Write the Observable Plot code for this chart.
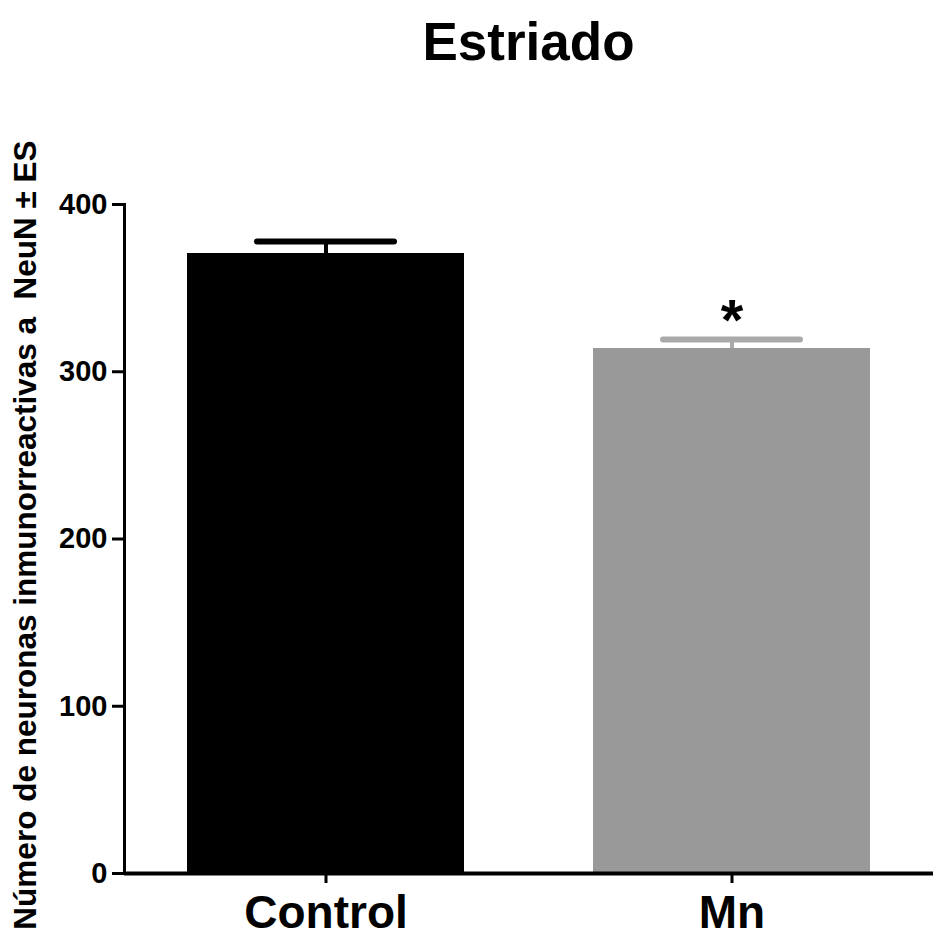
<!DOCTYPE html>
<html>
<head>
<meta charset="utf-8">
<script src="https://cdn.jsdelivr.net/npm/d3@7"></script>
<script src="https://cdn.jsdelivr.net/npm/@observablehq/plot@0.6"></script>
<style>
  html, body { margin: 0; padding: 0; background: #ffffff; }
  #wrap { width: 933px; height: 939px; position: relative; overflow: hidden; font-family: "Liberation Sans", Arial, sans-serif; }
  #title { box-sizing: border-box; height: 90px; padding-top: 15px; padding-left: 124px; text-align: center;
           font-size: 53px; line-height: 1; font-weight: bold; color: #000; }
  svg { display: block; overflow: visible; }
</style>
</head>
<body>
<div id="wrap">
  <div id="title">Estriado</div>
  <div id="chart"></div>
</div>
<script>
const title = "Estriado";
const groups = ["Control", "Mn"];
const means = [370.7, 313.9];
const errors = [7.2, 5.4];
const barColors = ["#000000", "#999999"];
const errorColors = ["#000000", "#aaaaaa"];
const significance = ["", "*"];
const yTicks = [0, 100, 200, 300, 400];
const yLabel = "Número de neuronas inmunorreactivas a  NeuN ± ES";

const data = groups.map((g, i) => ({
  group: g, mean: means[i], se: errors[i], top: means[i] + errors[i],
  fill: barColors[i], err: errorColors[i], sig: significance[i]
}));

const font = "Liberation Sans, Arial, sans-serif";

const chart = Plot.plot({
  width: 933,
  height: 849,
  marginTop: 114,
  marginBottom: 66,
  marginLeft: 124,
  marginRight: 0,
  style: { fontFamily: font, fontWeight: "bold", color: "#000", background: "#fff", overflow: "visible" },
  x: { domain: groups, paddingInner: 0.318, paddingOuter: 0.155, label: null },
  y: { domain: [0, 400], label: null },
  marks: [
    Plot.ruleX(data, { x: "group", y1: "mean", y2: "top", stroke: d => d.err, strokeWidth: 4 }),
    Plot.tickY(data, { x: "group", y: "top", stroke: d => d.err, strokeWidth: 6, strokeLinecap: "round", insetLeft: 70, insetRight: 70 }),
    Plot.barY(data, { x: "group", y: "mean", fill: d => d.fill }),
    Plot.text(data, { x: "group", y: "top", text: "sig", fontSize: 58, fontWeight: "bold", lineAnchor: "middle", dy: -18, fill: "#000" }),
    Plot.frame({ anchor: "left", strokeWidth: 3, stroke: "#000" }),
    Plot.ruleY([0], { strokeWidth: 4, stroke: "#000" }),
    Plot.axisY({ ticks: yTicks, tickSize: 12, tickPadding: 5, tickFormat: d3.format("d"), fontSize: 29, fontWeight: "bold", strokeWidth: 3, label: null }),
    Plot.axisX({ tickSize: 10, tickPadding: 12, fontSize: 46, fontWeight: "bold", strokeWidth: 3, label: null }),
    Plot.text([yLabel], { frameAnchor: "left", textAnchor: "middle", lineAnchor: "middle", rotate: -90, dx: -99, dy: -4, fontSize: 31.5, fontWeight: "bold", fill: "#000" })
  ]
});
document.getElementById("chart").appendChild(chart);
</script>
</body>
</html>
